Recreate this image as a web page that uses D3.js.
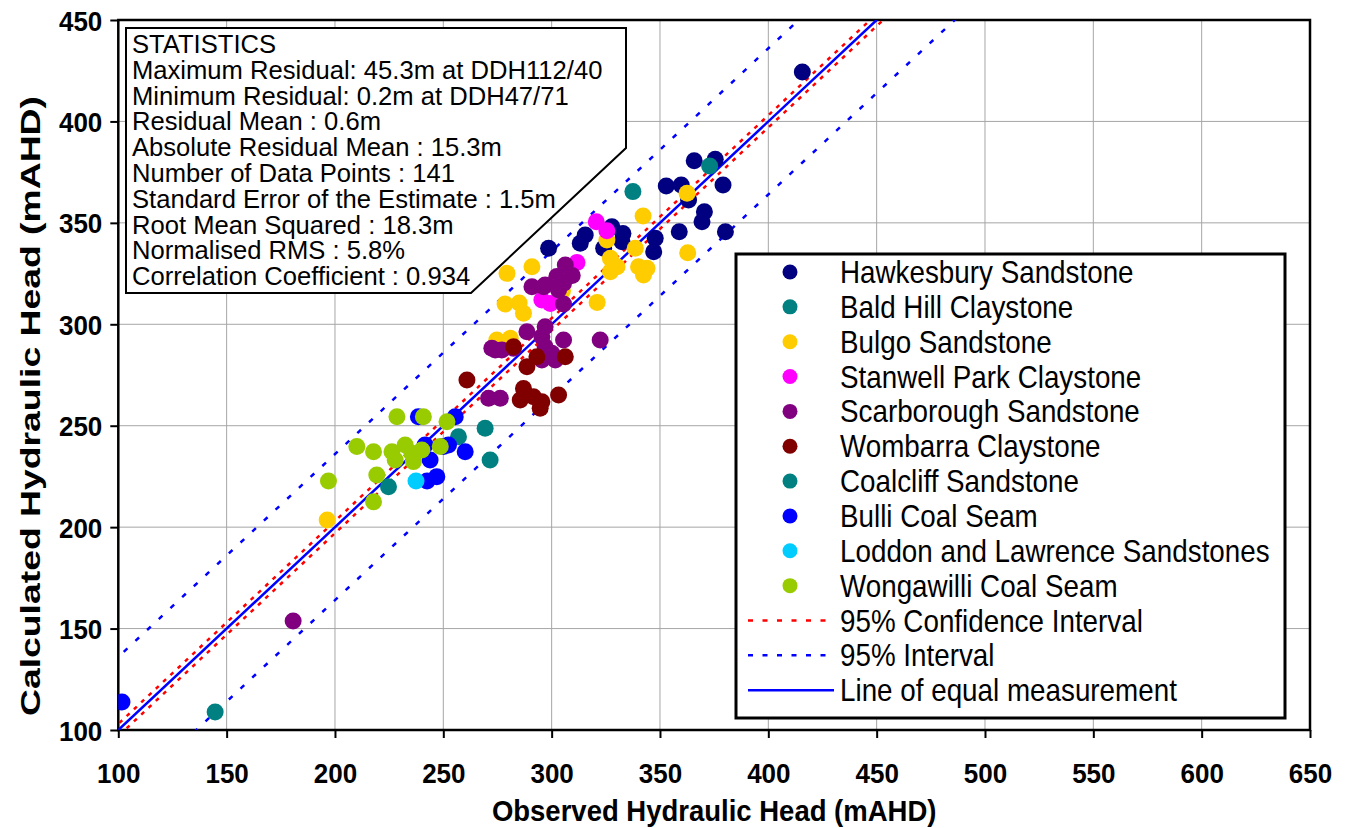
<!DOCTYPE html>
<html>
<head>
<meta charset="utf-8">
<script src="https://cdn.jsdelivr.net/npm/d3@7"></script>
<style>
  html, body { margin: 0; padding: 0; background: #fff; }
  svg { display: block; font-family: "Liberation Sans", Arial, sans-serif; }
</style>
</head>
<body>
<svg id="chart" width="1347" height="828"></svg>
<script>
// ---- Data (Observed, Calculated) per formation ----
const hawkesbury = [[415.7,424.4],[365.8,380.6],[375.5,381.4],[352.9,368.2],[359.8,368.7],[379.1,368.7],[363.2,361.3],[370.5,355.5],[369.4,350.5],[380.2,345.6],[358.9,345.6],[347.8,342.4],[347.1,335.8],[327.8,348.1],[332.9,344.8],[332.5,340.7],[315.5,344.0],[313.2,339.9],[298.6,337.5],[324.0,337.5]];
const baldHill = [[372.9,378.0],[337.5,365.4]];
const bulgo = [[362.5,364.6],[342.2,353.4],[338.6,337.5],[362.8,335.3],[325.5,341.5],[327.1,332.5],[330.2,328.4],[327.1,325.9],[340.1,328.4],[344.0,327.6],[342.4,324.3],[279.4,325.1],[290.9,328.4],[278.5,310.0],[285.0,310.5],[287.0,305.4],[305.0,316.5],[321.0,310.8],[274.7,292.2],[280.9,293.1],[196.4,203.5]];
const stanwellPark = [[320.6,350.6],[325.5,346.1],[311.7,330.5],[295.5,312.0],[299.4,310.3]];
const scarborough = [[306.3,329.2],[302.4,323.5],[309.5,324.0],[305.5,320.2],[297.0,319.4],[290.9,318.5],[296.3,318.5],[303.2,316.9],[305.5,310.0],[288.6,296.3],[297.0,298.8],[295.5,293.9],[305.5,292.2],[297.0,288.9],[300.1,285.7],[301.7,282.4],[295.5,282.4],[322.4,292.2],[274.0,287.3],[272.4,288.2],[277.0,287.3],[282.4,288.2],[270.9,263.5],[276.3,263.5],[180.7,153.7]];
const wombarra = [[282.4,288.9],[293.2,284.0],[288.6,279.1],[306.3,284.0],[260.9,272.5],[287.0,268.4],[285.5,262.7],[291.6,264.3],[294.7,258.6],[303.2,265.1],[295.5,261.8]];
const coalcliff = [[257.0,244.6],[269.3,248.7],[271.6,233.1],[224.7,219.9],[144.7,108.9]];
const bulli = [[101.7,113.8],[238.5,254.4],[255.5,254.4],[241.6,240.5],[243.9,233.1],[250.1,239.7],[252.4,240.5],[260.1,237.2],[242.5,222.8],[247.0,224.9]];
const loddonLawrence = [[237.4,222.8]];
const wongawilli = [[228.6,254.4],[240.8,254.4],[251.7,252.0],[248.6,239.7],[210.1,239.7],[217.8,237.2],[226.3,237.2],[227.8,233.1],[232.4,240.5],[235.5,236.4],[236.2,232.3],[240.1,238.0],[197.0,222.8],[219.3,225.7],[217.8,212.5]];

const seriesNames = ["Hawkesbury Sandstone","Bald Hill Claystone","Bulgo Sandstone","Stanwell Park Claystone","Scarborough Sandstone","Wombarra Claystone","Coalcliff Sandstone","Bulli Coal Seam","Loddon and Lawrence Sandstones","Wongawilli Coal Seam"];
const seriesData = [hawkesbury, baldHill, bulgo, stanwellPark, scarborough, wombarra, coalcliff, bulli, loddonLawrence, wongawilli];
const seriesColors = ["#000080","#008080","#FFCC00","#FF00FF","#800080","#800000","#008080","#0000FF","#00CCFF","#99CC00"];

const xTicks = [100,150,200,250,300,350,400,450,500,550,600,650];
const yTicks = [100,150,200,250,300,350,400,450];

// Reference lines: offsets from the 1:1 line
const equalLine = [[100,100],[450,450]];
const confidenceOffset = 3;   // 95% confidence interval
const predictionOffset = 36;  // 95% interval

const statsLines = ["STATISTICS","Maximum Residual: 45.3m at DDH112/40","Minimum Residual: 0.2m at DDH47/71","Residual Mean : 0.6m","Absolute Residual Mean : 15.3m","Number of Data Points : 141","Standard Error of the Estimate : 1.5m","Root Mean Squared : 18.3m","Normalised RMS : 5.8%","Correlation Coefficient : 0.934"];
const lineLegend = ["95% Confidence Interval","95% Interval","Line of equal measurement"];

// ---- Layout ----
const svg = d3.select("#chart");
const L = 118.3, R = 1310, T = 20, B = 730;
const x = d3.scaleLinear().domain([100,650]).range([L,R]);
const y = d3.scaleLinear().domain([100,450]).range([B,T]);
const STRETCH = 1.1; // vertical text stretch seen in the reference

function addText(g, tx, ty, str, size, opts = {}) {
  return g.append("text")
    .attr("transform", `translate(${tx},${ty}) scale(1,${opts.stretch || STRETCH})`)
    .attr("font-size", size)
    .attr("font-weight", opts.bold ? "bold" : "normal")
    .attr("text-anchor", opts.anchor || "start")
    .attr("fill", "#000")
    .text(str);
}

svg.append("defs").append("clipPath").attr("id","plotclip")
  .append("rect").attr("x",L).attr("y",T).attr("width",R-L).attr("height",B-T);

// gridlines
const grid = svg.append("g");
grid.selectAll(".vg").data(xTicks.slice(1,-1)).join("line")
  .attr("x1",d=>x(d)).attr("x2",d=>x(d)).attr("y1",T).attr("y2",B)
  .attr("stroke","#a6a6a6").attr("stroke-width",1);
grid.selectAll(".hg").data(yTicks.slice(1,-1)).join("line")
  .attr("y1",d=>y(d)).attr("y2",d=>y(d)).attr("x1",L).attr("x2",R)
  .attr("stroke","#a6a6a6").attr("stroke-width",1);

// axes (tick marks via d3 axes, labels drawn with stretch)
const xAxis = d3.axisBottom(x).tickValues(xTicks).tickSize(8).tickFormat("");
const yAxis = d3.axisLeft(y).tickValues(yTicks).tickSize(8).tickFormat("");
const gx = svg.append("g").attr("transform",`translate(0,${B})`).call(xAxis);
const gy = svg.append("g").attr("transform",`translate(${L},0)`).call(yAxis);
[gx,gy].forEach(g=>{
  g.select(".domain").remove();
  g.selectAll(".tick line").attr("stroke","#000").attr("stroke-width",2);
});
gx.selectAll(".tick").each(function(d){
  addText(d3.select(this), 0, 53, d3.format("d")(d), 26, {bold:true, anchor:"middle", stretch:1.08});
});
gy.selectAll(".tick").each(function(d){
  addText(d3.select(this), -16, 10, d3.format("d")(d), 26, {bold:true, anchor:"end", stretch:1.08});
});

// frame
svg.append("rect").attr("x",L).attr("y",T).attr("width",R-L).attr("height",B-T)
  .attr("fill","none").attr("stroke","#000").attr("stroke-width",2.5);

// reference lines
const plot = svg.append("g").attr("clip-path","url(#plotclip)");
const lineGen = d3.line().x(d=>x(d[0])).y(d=>y(d[1]));
const extLine = off => [[100-Math.abs(off)-10, 100-Math.abs(off)-10+off],[500, 500+off]];
[-predictionOffset, predictionOffset].forEach(o=>{
  plot.append("path").attr("d",lineGen(extLine(o))).attr("fill","none")
    .attr("stroke","#0000FF").attr("stroke-width",2.5).attr("stroke-dasharray","5,11");
});
[-confidenceOffset, confidenceOffset].forEach(o=>{
  plot.append("path").attr("d",lineGen(extLine(o))).attr("fill","none")
    .attr("stroke","#FF0000").attr("stroke-width",2.5).attr("stroke-dasharray","4,6");
});
plot.append("path").attr("d",lineGen(equalLine)).attr("fill","none")
  .attr("stroke","#0000FF").attr("stroke-width",2.5);

// points
seriesData.forEach((arr,i)=>{
  plot.append("g").selectAll("circle").data(arr).join("circle")
    .attr("cx",d=>x(d[0])).attr("cy",d=>y(d[1])).attr("r",8.5)
    .attr("fill",seriesColors[i]);
});

// statistics box
svg.append("path")
  .attr("d","M126,28 L626,28 L626,148 L471,293 L126,293 Z")
  .attr("fill","#fff").attr("stroke","#000").attr("stroke-width",2);
const st = svg.append("g");
statsLines.forEach((s,i)=>{
  addText(st, 132, 53 + i*25.8, s, 25.6, {stretch:1.0});
});

// legend
const lg = svg.append("g");
lg.append("rect").attr("x",736).attr("y",254).attr("width",549).attr("height",464)
  .attr("fill","#fff").attr("stroke","#000").attr("stroke-width",3);
const rowY = i => 272 + i*34.85;
seriesNames.forEach((n,i)=>{
  lg.append("circle").attr("cx",790).attr("cy",rowY(i)).attr("r",7.5).attr("fill",seriesColors[i]);
  addText(lg, 840, rowY(i)+11, n, 27.8);
});
const lineStyles = [
  {c:"#FF0000",dash:"5,9.5"},
  {c:"#0000FF",dash:"5,9.5"},
  {c:"#0000FF",dash:null}
];
lineLegend.forEach((n,j)=>{
  const i = seriesNames.length + j;
  const ln = lg.append("line").attr("x1",748).attr("x2",834).attr("y1",rowY(i)).attr("y2",rowY(i))
    .attr("stroke",lineStyles[j].c).attr("stroke-width",2.5);
  if (lineStyles[j].dash) ln.attr("stroke-dasharray",lineStyles[j].dash);
  addText(lg, 840, rowY(i)+11, n, 27.8);
});

// axis titles
addText(svg, (L+R)/2, 821, "Observed Hydraulic Head (mAHD)", 27.5, {bold:true, anchor:"middle", stretch:1.08});
svg.append("text").attr("transform",`translate(40,406) rotate(-90)`).attr("text-anchor","middle")
  .attr("font-size",28).attr("font-weight","bold")
  .attr("textLength",620).attr("lengthAdjust","spacingAndGlyphs")
  .text("Calculated Hydraulic Head (mAHD)");
</script>
</body>
</html>
